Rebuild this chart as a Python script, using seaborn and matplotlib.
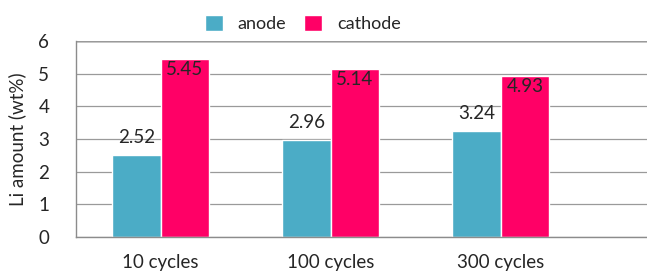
import pandas as pd
import seaborn as sns
import matplotlib.pyplot as plt
from matplotlib.patches import Patch

# values
cycles = ['10 cycles', '100 cycles', '300 cycles']
anode = [2.52, 2.96, 3.24]
cathode = [5.45, 5.14, 4.93]
series = ['anode', 'cathode']
colors = ['#4BACC6', '#FF0066']

df = pd.DataFrame({
    'cycle': cycles * 2,
    'electrode': ['anode'] * 3 + ['cathode'] * 3,
    'li': anode + cathode,
})

sns.set_style('white')
plt.rcParams['font.family'] = ['Lato', 'DejaVu Sans']
fs = 13.5

fig = plt.figure(figsize=(6.47, 2.75), dpi=100)
ax = fig.add_axes([0.117, 0.138, 0.883, 0.713])

sns.barplot(data=df, x='cycle', y='li', hue='electrode', hue_order=series,
            palette=colors, width=0.57, saturation=1, ax=ax, legend=False)

ax.set_ylim(0, 6)
ax.set_xlim(-0.5, 2.86)
ax.set_yticks(range(0, 7))
ax.yaxis.grid(True, color='#9a9a9a', linewidth=0.9)
ax.set_axisbelow(True)
ax.axhline(6, color='black', linewidth=1.0, zorder=0.5)
for s in ['top', 'right']:
    ax.spines[s].set_visible(False)
for s in ['left', 'bottom']:
    ax.spines[s].set_color('#8c8c8c')
    ax.spines[s].set_linewidth(1.0)

ax.tick_params(axis='y', length=5, color='#8c8c8c', labelsize=fs, pad=14)
ax.set_xticks([-0.5, 0.5, 1.5], minor=True)
ax.tick_params(axis='x', which='minor', length=5, color='#8c8c8c')
ax.tick_params(axis='x', which='major', length=0, labelsize=fs, pad=12)
ax.set_xlabel('')
ax.set_ylabel('Li amount (wt%)', fontsize=fs, labelpad=9)

# value labels: anode above the bar, cathode just inside the top
for container, name in zip(ax.containers, series):
    for bar in container:
        h = bar.get_height()
        xc = bar.get_x() + bar.get_width() / 2
        if name == 'anode':
            ax.text(xc, h + 0.28, f'{h:.2f}', ha='center', va='bottom', fontsize=fs)
        else:
            ax.text(xc, h - 0.06, f'{h:.2f}', ha='center', va='top', fontsize=fs)

handles = [Patch(facecolor=c, label=n) for c, n in zip(colors, series)]
fig.legend(handles=handles, loc='center', bbox_to_anchor=(0.468, 0.915), ncol=2,
           frameon=False, fontsize=13, handlelength=1.0, handleheight=1.0,
           columnspacing=1.0, handletextpad=0.8)

fig.savefig('out.png', dpi=100)
